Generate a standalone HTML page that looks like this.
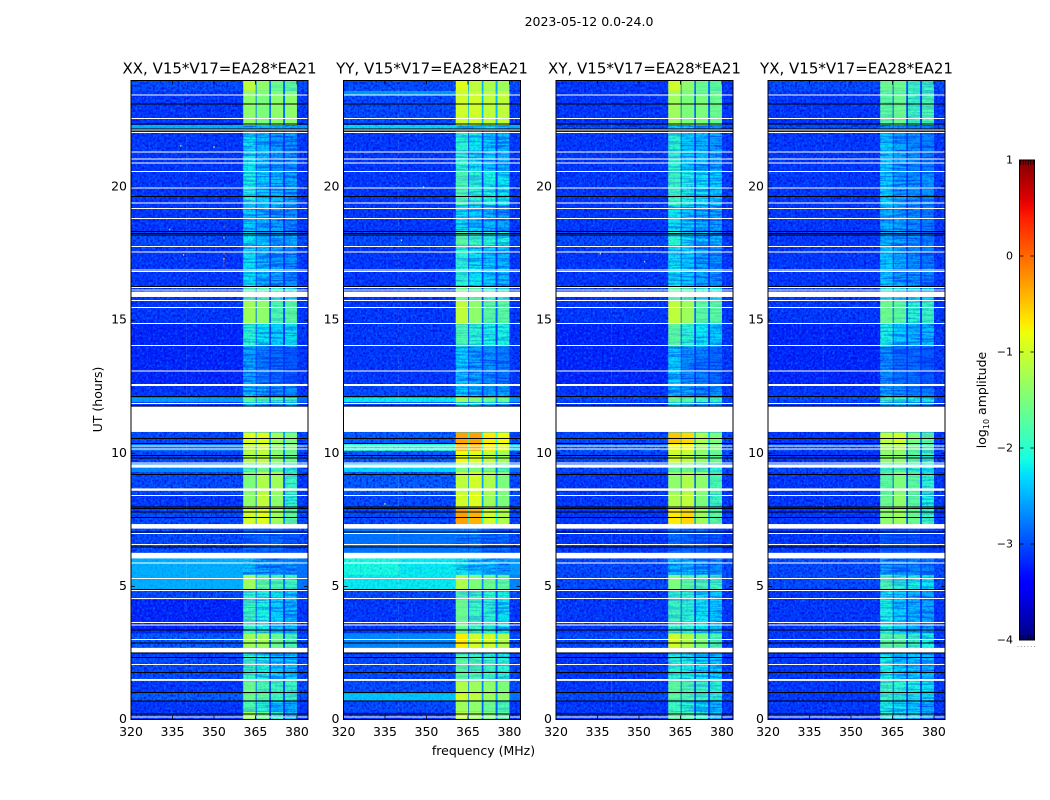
<!DOCTYPE html>
<html lang="en">
<head>
<meta charset="utf-8">
<title>2023-05-12 0.0-24.0 dynamic spectra</title>
<style>
html,body{margin:0;padding:0;background:#fff;}
svg{display:block;font-family:"DejaVu Sans","Liberation Sans",sans-serif;fill:#000;}
</style>
</head>
<body>
<svg id="figure" xmlns="http://www.w3.org/2000/svg" width="1050" height="800" viewBox="0 0 1050 800">
  <defs>
    <filter id="speckle-light" x="0" y="0" width="100%" height="100%" color-interpolation-filters="sRGB">
      <feTurbulence type="fractalNoise" baseFrequency="0.45 0.4" numOctaves="2" seed="4"/>
      <feColorMatrix values="0 0 0 0 0  0 0 0 0 0.55  0 0 0 0 1  3.4 0 0 0 -1.55"/>
    </filter>
    <filter id="speckle-dark" x="0" y="0" width="100%" height="100%" color-interpolation-filters="sRGB">
      <feTurbulence type="fractalNoise" baseFrequency="0.45 0.4" numOctaves="2" seed="11"/>
      <feColorMatrix values="0 0 0 0 0  0 0 0 0 0  0 0 0 0 0.85  3.4 0 0 0 -1.55"/>
    </filter>
    <filter id="streak-dark" x="0" y="0" width="100%" height="100%" color-interpolation-filters="sRGB">
      <feTurbulence type="fractalNoise" baseFrequency="0.035 0.55" numOctaves="2" seed="7"/>
      <feColorMatrix values="0 0 0 0 0  0 0 0 0 0.15  0 0 0 0 0.95  5 0 0 0 -2.2"/>
    </filter>
    <linearGradient id="jet-gradient" x1="0" y1="1" x2="0" y2="0"></linearGradient>
  </defs>
  <rect width="1050" height="800" fill="#fff"/>
  <text x="589" y="26" font-size="12.5" text-anchor="middle">2023-05-12 0.0-24.0</text>
  <text x="483.500" y="755" font-size="12.5" text-anchor="middle">frequency (MHz)</text>
  <text transform="translate(102,399.500) rotate(-90)" font-size="12.5" text-anchor="middle">UT (hours)</text>
  <text transform="translate(986,400) rotate(-90)" font-size="12.5" text-anchor="middle">log<tspan font-size="8" dy="3">10</tspan><tspan dy="-3"> amplitude</tspan></text>
  <g id="panels"></g>
  <g id="colorbar"></g>
</svg>
<script>
// ---- chart data (hours UT, MHz, log10 amplitude) ----
const panelNames = ['XX', 'YY', 'XY', 'YX'];
const baselineLabel = 'V15*V17=EA28*EA21';
const freqTicks = [320, 335, 350, 365, 380];
const hourTicks = [0, 5, 10, 15, 20];
const colorTicks = [-4, -3, -2, -1, 0, 1];
const freqChannels = [[320, 340], [340, 360.6], [380, 384], [360.6, 365.1], [365.4, 370], [370.6, 375], [375.7, 380]];
const gapChannel = [360.6, 380];
const hourBands = [[0,.3],[.3,.73],[.73,1],[1,1.45],[1.45,2.45],[2.45,2.7],[2.7,3.25],[3.25,4.5],[4.5,4.9],[4.9,5.45],[5.45,6.15],[6.15,7.25],[7.25,8],[8,8.5],[8.5,9.31],[9.31,9.62],[9.62,10.1],[10.1,10.38],[10.38,10.8],[10.8,11.93],[11.93,12.11],[12.11,12.57],[12.57,14.02],[14.02,14.88],[14.88,15.73],[15.73,16.24],[16.24,17.83],[17.83,18.33],[18.33,19.33],[19.33,20.64],[20.64,21.93],[21.93,22.21],[22.21,22.34],[22.34,23.46],[23.46,23.62],[23.62,24]];
const valuesXX = [
[-3.1,-3.1,-3.1,-1.3,-1.6,-2.0,-2.4],[-3.1,-3.1,-3.1,-1.8,-2.0,-2.3,-2.5],[-2.9,-2.9,-3.0,-1.6,-1.7,-1.9,-1.9],[-3.1,-3.1,-3.0,-1.6,-1.8,-1.9,-1.9],[-3.0,-3.0,-3.0,-1.9,-2.1,-2.3,-2.3],
[-3.1,-3.1,-3.0,-2.1,-2.2,-2.3,-2.4],[-2.9,-2.9,-3.0,-1.3,-1.3,-1.6,-1.8],[-3.2,-3.2,-3.1,-1.9,-2.1,-2.3,-2.4],[-3.0,-3.0,-3.0,-2.0,-2.1,-2.2,-2.3],[-2.5,-2.5,-2.8,-1.3,-1.7,-1.8,-1.9],
[-2.5,-2.5,-2.8,-2.4,-2.5,-2.6,-2.6],[-3.0,-3.0,-3.0,-2.8,-2.8,-2.8,-2.9],[-3.0,-3.0,-3.0,-1.0,-0.9,-1.3,-1.7],[-3.1,-3.1,-3.1,-1.4,-1.1,-1.4,-2.0],[-3.0,-3.0,-3.1,-1.5,-1.2,-1.3,-1.9],
[-2.7,-2.7,-2.9,-1.8,-1.6,-1.8,-2.0],[-3.0,-3.0,-3.0,-1.2,-1.1,-1.4,-1.6],[-2.8,-2.8,-3.0,-1.1,-1.0,-1.4,-1.5],[-3.0,-3.0,-3.0,-0.9,-0.9,-1.3,-1.5],[-3.1,-3.1,-3.1,-2.3,-2.3,-2.4,-2.4],
[-2.6,-2.6,-2.8,-1.7,-1.8,-1.9,-1.9],[-3.1,-3.1,-3.1,-2.4,-2.5,-2.6,-2.6],[-3.2,-3.2,-3.1,-2.5,-2.7,-2.8,-2.9],[-3.2,-3.2,-3.1,-2.0,-2.2,-2.3,-2.2],[-3.1,-3.1,-3.1,-1.3,-1.4,-1.8,-1.7],
[-3.1,-3.1,-3.1,-1.8,-1.8,-2.0,-2.1],[-3.1,-3.1,-3.1,-2.2,-2.4,-2.5,-2.6],[-3.0,-3.0,-3.0,-2.2,-2.3,-2.4,-2.5],[-3.1,-3.1,-3.1,-2.3,-2.4,-2.5,-2.6],[-3.1,-3.1,-3.1,-2.1,-2.3,-2.4,-2.5],
[-3.1,-3.1,-3.1,-2.2,-2.4,-2.6,-2.6],[-3.1,-3.1,-3.1,-2.2,-2.3,-2.5,-2.5],[-2.5,-2.5,-2.6,-2.4,-2.4,-2.4,-2.5],[-3.1,-3.1,-3.1,-1.4,-1.5,-1.4,-1.4],[-3.1,-3.1,-3.1,-1.4,-1.5,-1.5,-1.5],[-3.0,-3.0,-3.0,-1.1,-1.4,-1.6,-1.7]];
const valuesYY = [
[-3.1,-3.1,-3.1,-1.1,-1.3,-1.5,-1.7],[-3.0,-3.0,-3.1,-1.3,-1.4,-1.6,-1.8],[-2.4,-2.4,-2.8,-1.0,-1.1,-1.3,-1.4],[-3.0,-3.0,-3.0,-1.2,-1.3,-1.4,-1.5],[-3.0,-3.0,-3.0,-1.7,-1.8,-1.9,-2.0],
[-3.1,-3.1,-3.0,-1.9,-2.0,-2.1,-2.2],[-2.7,-2.7,-3.0,-0.7,-1.0,-1.0,-1.2],[-3.1,-3.1,-3.1,-1.6,-1.9,-2.0,-2.2],[-3.0,-3.0,-3.0,-1.8,-1.9,-2.0,-2.1],[-2.2,-2.2,-2.7,-1.2,-1.5,-1.6,-1.7],
[-2.1,-2.2,-2.6,-2.2,-2.3,-2.4,-2.5],[-2.8,-2.8,-3.0,-2.7,-2.7,-2.8,-2.8],[-3.0,-3.0,-3.0,-0.3,-0.4,-1.0,-1.2],[-3.0,-3.0,-3.0,-1.0,-0.9,-1.3,-1.5],[-2.9,-2.9,-3.0,-1.1,-1.0,-1.2,-1.5],
[-2.3,-2.3,-2.8,-1.5,-1.5,-1.6,-1.8],[-2.9,-2.9,-3.0,-0.8,-0.9,-1.1,-1.3],[-2.0,-2.0,-2.4,-0.4,-0.4,-0.7,-0.9],[-2.9,-2.9,-3.0,-0.3,-0.3,-0.7,-0.8],[-3.0,-3.0,-3.1,-2.2,-2.2,-2.3,-2.4],
[-2.2,-2.2,-2.6,-1.3,-1.5,-1.6,-1.6],[-3.0,-3.0,-3.1,-2.3,-2.4,-2.5,-2.5],[-3.1,-3.1,-3.1,-2.3,-2.5,-2.6,-2.7],[-3.1,-3.1,-3.1,-1.8,-2.0,-2.1,-2.1],[-3.1,-3.1,-3.1,-1.1,-1.4,-1.7,-1.7],
[-3.1,-3.1,-3.1,-1.6,-1.7,-1.9,-2.0],[-3.1,-3.1,-3.1,-2.0,-2.2,-2.3,-2.4],[-3.0,-3.0,-3.0,-1.7,-1.9,-2.0,-2.1],[-3.1,-3.1,-3.1,-2.2,-2.3,-2.4,-2.5],[-3.1,-3.1,-3.1,-1.8,-2.0,-2.1,-2.2],
[-3.1,-3.1,-3.1,-2.0,-2.2,-2.3,-2.4],[-3.1,-3.1,-3.1,-2.0,-2.1,-2.3,-2.3],[-2.3,-2.3,-2.5,-2.2,-2.2,-2.2,-2.3],[-3.0,-3.0,-3.1,-1.0,-1.0,-1.1,-1.1],[-2.6,-2.6,-3.0,-1.0,-1.0,-1.1,-1.1],[-3.0,-3.0,-3.0,-0.9,-1.1,-1.2,-1.3]];
const valuesXY = [
[-3.1,-3.1,-3.1,-1.7,-1.8,-2.0,-2.3],[-3.1,-3.1,-3.1,-1.9,-2.0,-2.2,-2.4],[-3.0,-3.0,-3.0,-1.7,-1.8,-1.9,-2.0],[-3.1,-3.1,-3.1,-1.7,-1.8,-1.9,-2.0],[-3.1,-3.1,-3.1,-2.0,-2.1,-2.2,-2.3],
[-3.1,-3.1,-3.1,-2.1,-2.2,-2.3,-2.4],[-3.0,-3.0,-3.1,-1.0,-1.2,-1.5,-1.8],[-3.1,-3.1,-3.1,-1.9,-2.0,-2.2,-2.3],[-3.1,-3.1,-3.1,-2.0,-2.0,-2.2,-2.3],[-3.0,-3.0,-3.0,-1.5,-1.7,-1.8,-1.9],
[-3.0,-3.0,-3.0,-2.4,-2.4,-2.5,-2.6],[-3.1,-3.1,-3.1,-2.8,-2.8,-2.8,-2.9],[-3.1,-3.1,-3.1,-0.7,-0.6,-1.3,-1.7],[-3.1,-3.1,-3.1,-1.2,-1.1,-1.5,-1.9],[-3.1,-3.1,-3.1,-1.4,-1.2,-1.4,-1.8],
[-3.0,-3.0,-3.0,-1.7,-1.6,-1.8,-2.0],[-3.0,-3.0,-3.0,-1.0,-1.1,-1.4,-1.6],[-2.9,-2.9,-3.0,-0.8,-0.8,-1.3,-1.5],[-3.0,-3.0,-3.0,-0.5,-0.6,-1.2,-1.5],[-3.1,-3.1,-3.1,-2.2,-2.2,-2.4,-2.4],
[-3.0,-3.0,-3.0,-1.6,-1.7,-1.9,-1.9],[-3.1,-3.1,-3.1,-2.4,-2.5,-2.6,-2.6],[-3.2,-3.2,-3.1,-2.3,-2.6,-2.7,-2.8],[-3.2,-3.2,-3.1,-1.7,-2.0,-2.2,-2.3],[-3.1,-3.1,-3.1,-1.1,-1.3,-1.7,-1.7],
[-3.1,-3.1,-3.1,-1.7,-1.8,-2.0,-2.1],[-3.1,-3.1,-3.1,-2.2,-2.3,-2.5,-2.6],[-3.0,-3.0,-3.1,-2.0,-2.2,-2.3,-2.4],[-3.1,-3.1,-3.1,-2.2,-2.3,-2.4,-2.5],[-3.1,-3.1,-3.1,-1.9,-2.1,-2.2,-2.3],
[-3.1,-3.1,-3.1,-2.0,-2.3,-2.4,-2.5],[-3.1,-3.1,-3.1,-2.0,-2.2,-2.4,-2.4],[-3.0,-3.0,-3.0,-2.3,-2.3,-2.4,-2.5],[-3.1,-3.1,-3.1,-1.3,-1.5,-1.5,-1.6],[-3.1,-3.1,-3.1,-1.3,-1.5,-1.6,-1.6],[-3.1,-3.1,-3.1,-1.0,-1.4,-1.6,-1.7]];
const valuesYX = [
[-3.1,-3.1,-3.1,-2.0,-2.2,-2.2,-2.4],[-3.1,-3.1,-3.1,-2.1,-2.2,-2.3,-2.5],[-3.1,-3.1,-3.1,-1.9,-2.0,-2.1,-2.2],[-3.1,-3.1,-3.1,-1.9,-2.0,-2.1,-2.2],[-3.1,-3.1,-3.1,-2.1,-2.3,-2.3,-2.4],
[-3.1,-3.1,-3.1,-2.3,-2.4,-2.4,-2.5],[-3.1,-3.1,-3.1,-1.7,-1.7,-1.9,-2.1],[-3.1,-3.1,-3.1,-2.1,-2.3,-2.4,-2.5],[-3.1,-3.1,-3.1,-2.2,-2.3,-2.4,-2.5],[-3.0,-3.0,-3.0,-1.8,-2.0,-2.1,-2.2],
[-3.0,-3.0,-3.0,-2.5,-2.6,-2.6,-2.7],[-3.1,-3.1,-3.1,-2.9,-2.9,-2.9,-3.0],[-3.1,-3.1,-3.1,-1.4,-1.3,-1.6,-1.9],[-3.1,-3.1,-3.1,-1.6,-1.4,-1.7,-2.1],[-3.1,-3.1,-3.1,-1.7,-1.5,-1.7,-2.0],
[-3.0,-3.0,-3.0,-1.9,-1.8,-2.0,-2.2],[-3.1,-3.1,-3.1,-1.4,-1.4,-1.7,-1.9],[-3.0,-3.0,-3.0,-1.3,-1.2,-1.6,-1.8],[-3.1,-3.1,-3.1,-1.1,-1.0,-1.5,-1.7],[-3.1,-3.1,-3.1,-2.4,-2.4,-2.5,-2.5],
[-3.0,-3.0,-3.0,-1.9,-2.0,-2.1,-2.1],[-3.1,-3.1,-3.1,-2.5,-2.6,-2.7,-2.7],[-3.2,-3.2,-3.1,-2.6,-2.8,-2.8,-2.9],[-3.2,-3.2,-3.1,-2.1,-2.3,-2.4,-2.4],[-3.1,-3.1,-3.1,-1.6,-1.7,-2.0,-1.9],
[-3.1,-3.1,-3.1,-2.0,-2.1,-2.2,-2.3],[-3.1,-3.1,-3.1,-2.3,-2.5,-2.6,-2.7],[-3.1,-3.1,-3.1,-2.4,-2.5,-2.6,-2.7],[-3.1,-3.1,-3.1,-2.4,-2.5,-2.6,-2.7],[-3.1,-3.1,-3.1,-2.3,-2.5,-2.6,-2.6],
[-3.1,-3.1,-3.1,-2.3,-2.5,-2.6,-2.7],[-3.1,-3.1,-3.1,-2.3,-2.5,-2.6,-2.6],[-3.0,-3.0,-3.0,-2.6,-2.6,-2.7,-2.7],[-3.1,-3.1,-3.1,-1.7,-1.6,-1.9,-1.8],[-3.1,-3.1,-3.1,-1.7,-1.7,-1.9,-1.9],[-3.0,-3.0,-3.0,-1.6,-1.6,-1.9,-1.9]];
const flaggedSpans = [[10.80,11.75],[15.87,16.07],[9.46,9.58],[8.59,8.68],[7.17,7.34],[6.05,6.26],[2.52,2.69],[1.45,1.52]];
const flaggedLines = [23.46,22.58,22.14,22.05,21.31,21.06,20.90,20.59,19.96,19.39,19.20,18.82,17.77,17.55,16.88,16.83,16.23,16.13,15.73,15.48,14.88,14.05,13.09,12.59,12.54,11.86,10.28,10.16,9.63,8.42,6.99,6.58,5.87,5.30,4.85,4.55,3.64,3.54,3.01,2.07,0.09];
const zeroLines = [23.11,22.37,22.18,22.10,19.65,18.32,18.26,18.20,16.26,12.14,11.77,10.56,10.37,9.91,9.83,9.21,7.99,7.92,7.80,7.59,7.04,6.47,4.89,3.36,2.87,2.49,2.32,1.77,1.01,0.69,0.20];
const outliersXX = [[353.6,18.5,0.2],[353.6,18.1,-0.6],[353.6,17.5,0.1],[353.6,17.3,-0.7],[353.6,17.2,0.2],[353.6,17.05,0.1],[339,17.45,-0.6],[334,18.4,-1.6],[350,21.5,-0.8],[338,21.55,-1.2]];
const outliersYY = [[335,8.1,-0.8],[349,20.0,-1.6],[341,18.0,-1.4]];
const outliersXY = [[336,17.5,-0.8],[352,17.2,-1.5]];
const outliersYX = [[340,8.0,-1.6]];

// ---- layout ----
const plotTop = 80.5, plotBottom = 719.5, plotWidth = 177;
const panelLefts = [131, 343.5, 556, 768];
const freqMin = 320, freqMax = 384, hourMin = 0, hourMax = 24;
const cbar = {left: 1019.5, right: 1034.5, top: 160, bottom: 640, min: -4, max: 1};
const NS = 'http://www.w3.org/2000/svg';
const panelValues = [valuesXX, valuesYY, valuesXY, valuesYX];
const panelOutliers = [outliersXX, outliersYY, outliersXY, outliersYX];

function interp(points, t) {
  for (let i = 1; i < points.length; i++) {
    if (t <= points[i][0]) {
      const a = points[i - 1], b = points[i];
      return a[1] + (b[1] - a[1]) * (t - a[0]) / (b[0] - a[0]);
    }
  }
  return points[points.length - 1][1];
}
function jet(v) {
  const t = Math.max(0, Math.min(1, (v - cbar.min) / (cbar.max - cbar.min)));
  const r = interp([[0,0],[.35,0],[.66,1],[.89,1],[1,.5]], t);
  const g = interp([[0,0],[.125,0],[.375,1],[.64,1],[.91,0],[1,0]], t);
  const b = interp([[0,.5],[.11,1],[.34,1],[.65,0],[1,0]], t);
  return 'rgb(' + Math.round(r * 255) + ',' + Math.round(g * 255) + ',' + Math.round(b * 255) + ')';
}
function xScale(left, f) { return left + (f - freqMin) / (freqMax - freqMin) * plotWidth; }
function yScale(h) { return plotBottom - (h - hourMin) / (hourMax - hourMin) * (plotBottom - plotTop); }
function cScale(v) { return cbar.bottom - (v - cbar.min) / (cbar.max - cbar.min) * (cbar.bottom - cbar.top); }
function make(parent, tag, attrs, text) {
  const el = document.createElementNS(NS, tag);
  for (const k in attrs) el.setAttribute(k, attrs[k]);
  if (text !== undefined) el.textContent = text;
  parent.appendChild(el);
  return el;
}
// decorative receiver-noise texture drawn over a cell (no data)
function texture(parent, x, y, w, h, filterId, opacity) {
  if (opacity <= 0.02) return;
  const tex = make(parent, 'rect', {x: x, y: y, width: w, height: h, filter: 'url(#' + filterId + ')', opacity: opacity});
  
  
}

const panelsRoot = document.getElementById('panels');
panelNames.forEach(function (name, p) {
  const left = panelLefts[p];
  const g = make(panelsRoot, 'g', {});
  
  

  const clipId = 'clip-' + name;
  const clip = make(g, 'clipPath', {id: clipId});
  make(clip, 'rect', {x: left, y: plotTop, width: plotWidth, height: plotBottom - plotTop});
  const plot = make(g, 'g', {'clip-path': 'url(#' + clipId + ')'});
  
  

  // heatmap cells
  hourBands.forEach(function (band, r) {
    const row = panelValues[p][r];
    const y0 = yScale(band[1]), y1 = yScale(band[0]);

    // channels between sub-bands: faint leakage from the neighbouring sub-bands
    const subMean = (row[3] + row[4] + row[5] + row[6]) / 4;
    const gapX0 = xScale(left, gapChannel[0]), gapX1 = xScale(left, gapChannel[1]);
    const gapCell = make(plot, 'rect', {x: gapX0, y: y0, width: gapX1 - gapX0, height: y1 - y0 + 0.3, fill: jet(Math.max(row[2], subMean - 1.4))});
    
    

    freqChannels.forEach(function (ch, c) {
      const v = row[c];
      const x0 = xScale(left, ch[0]), x1 = xScale(left, ch[1]);
      const cell = make(plot, 'rect', {x: x0, y: y0, width: x1 - x0, height: y1 - y0 + 0.3, fill: jet(v)});
      
      
      if (c <= 2) {
        const strength = v < -2.85 ? 1 : 0.22;
        texture(plot, x0, y0, x1 - x0, y1 - y0, 'speckle-light', 0.5 * strength);
        texture(plot, x0, y0, x1 - x0, y1 - y0, 'speckle-dark', 0.7 * strength);
      } else {
        const dim = Math.max(0, Math.min(1, (-1.5 - v) / 1.0));
        texture(plot, x0, y0, x1 - x0, y1 - y0, 'streak-dark', 0.55 * dim);
        texture(plot, x0, y0, x1 - x0, y1 - y0, 'speckle-dark', 0.3 * dim);
      }
    });
  });

  // bright outlier samples
  panelOutliers[p].forEach(function (o) {
    const pt = make(plot, 'rect', {x: xScale(left, o[0]) - 0.6, y: yScale(o[1]) - 0.8, width: 1.2, height: 1.6, fill: jet(o[2])});
    
    
  });

  // flagged (white) data and zero-amplitude (black) rows
  flaggedSpans.forEach(function (s) {
    const el = make(plot, 'rect', {x: left, y: yScale(s[1]), width: plotWidth, height: yScale(s[0]) - yScale(s[1]), fill: '#fff'});
    
    
  });
  flaggedLines.forEach(function (h) {
    const el = make(plot, 'line', {x1: left, x2: left + plotWidth, y1: yScale(h), y2: yScale(h), stroke: '#fff', 'stroke-width': 1, 'shape-rendering': 'crispEdges'});
    
    
  });
  zeroLines.forEach(function (h) {
    const el = make(plot, 'line', {x1: left, x2: left + plotWidth, y1: yScale(h), y2: yScale(h), stroke: '#000', 'stroke-width': 1, 'shape-rendering': 'crispEdges'});
    
    
  });

  // frame
  const frame = make(g, 'rect', {x: left, y: plotTop, width: plotWidth, height: plotBottom - plotTop, fill: 'none', stroke: '#000', 'stroke-width': 1});
  
  

  // x ticks
  freqTicks.forEach(function (f) {
    const x = xScale(left, f);
    const t1 = make(g, 'line', {x1: x, x2: x, y1: plotBottom, y2: plotBottom - 4, stroke: '#000', 'stroke-width': .8});
    
    
    const t2 = make(g, 'line', {x1: x, x2: x, y1: plotTop, y2: plotTop + 4, stroke: '#000', 'stroke-width': .8});
    
    
    const lab = make(g, 'text', {x: x, y: 736, 'font-size': 12.5, 'text-anchor': 'middle'}, String(f));
    
    
  });

  // y ticks
  hourTicks.forEach(function (h) {
    const y = yScale(h);
    const t1 = make(g, 'line', {x1: left, x2: left + 4, y1: y, y2: y, stroke: '#000', 'stroke-width': .8});
    
    
    const t2 = make(g, 'line', {x1: left + plotWidth, x2: left + plotWidth - 4, y1: y, y2: y, stroke: '#000', 'stroke-width': .8});
    
    
    const lab = make(g, 'text', {x: left - 4, y: y + 3.5, 'font-size': 12.5, 'text-anchor': 'end'}, String(h));
    
    
  });

  // title
  const title = make(g, 'text', {x: left + plotWidth / 2, y: 73.5, 'font-size': 15, 'text-anchor': 'middle'}, name + ', ' + baselineLabel);
  
  
});

// colorbar
const grad = document.getElementById('jet-gradient');
for (let i = 0; i <= 50; i++) {
  const v = cbar.min + (cbar.max - cbar.min) * i / 50;
  make(grad, 'stop', {offset: (i * 2) + '%', 'stop-color': jet(v)});
}
const cb = document.getElementById('colorbar');
const cbW = cbar.right - cbar.left, cbH = cbar.bottom - cbar.top;
const cbRamp = make(cb, 'rect', {x: cbar.left, y: cbar.top, width: cbW, height: cbH, fill: 'url(#jet-gradient)'});


const cbFrame = make(cb, 'rect', {x: cbar.left, y: cbar.top, width: cbW, height: cbH, fill: 'none', stroke: '#000', 'stroke-width': 1});


colorTicks.forEach(function (v) {
  const y = cScale(v);
  const t1 = make(cb, 'line', {x1: cbar.left, x2: cbar.left + 4, y1: y, y2: y, stroke: '#000', 'stroke-width': .8});
  
  
  const t2 = make(cb, 'line', {x1: cbar.right, x2: cbar.right - 4, y1: y, y2: y, stroke: '#000', 'stroke-width': .8});
  
  
  const lab = make(cb, 'text', {x: 1013, y: y + 3.5, 'font-size': 11, 'text-anchor': 'end'}, String(v).replace('-', '\u2212'));
  
  
});
for (let i = 0; i < 6; i++) {
  const x = cbar.left + (i + 0.5) * cbW / 6;
  const top = make(cb, 'line', {x1: x, x2: x, y1: cbar.top, y2: cbar.top + 5, stroke: '#000', 'stroke-width': .7});
  
  
  const bot = make(cb, 'line', {x1: x, x2: x, y1: cbar.bottom, y2: cbar.bottom - 5, stroke: '#000', 'stroke-width': .7});
  
  
  const dot = make(cb, 'rect', {x: 1017.5 + i * 3.3, y: 646, width: 1, height: 1, fill: '#999'});
  
  
}
</script>
</body>
</html>
